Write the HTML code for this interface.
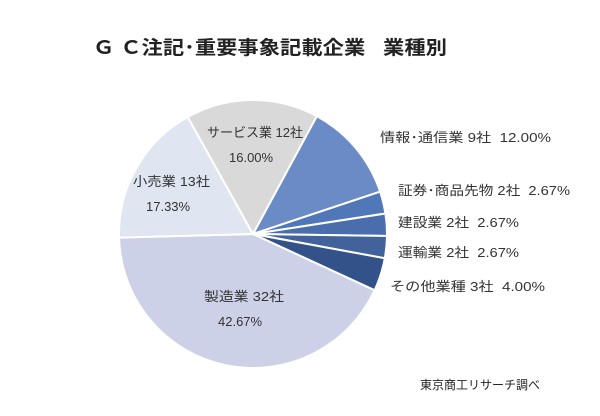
<!DOCTYPE html>
<html><head><meta charset="utf-8"><style>
body{margin:0;width:600px;height:411px;background:#fff;overflow:hidden;font-family:"Liberation Sans","Noto Sans CJK JP",sans-serif}
</style></head><body>
<svg id="s" width="600" height="411" xmlns="http://www.w3.org/2000/svg" font-family="Liberation Sans, Noto Sans CJK JP, sans-serif">
<text x="93" y="54" font-size="19" font-weight="bold" fill="#222" textLength="354" lengthAdjust="spacingAndGlyphs">Ｇ Ｃ注記･重要事象記載企業&#160;&#160;&#160;業種別</text>
<g id="pie"></g>
<g font-size="13" fill="#333">
<text x="207" y="137" textLength="96" lengthAdjust="spacingAndGlyphs">サービス業 12社</text>
<text x="229" y="162">16.00%</text>
<text x="133" y="186" textLength="77" lengthAdjust="spacingAndGlyphs">小売業 13社</text>
<text x="146" y="211">17.33%</text>
<text x="204" y="301" textLength="80" lengthAdjust="spacingAndGlyphs">製造業 32社</text>
<text x="218" y="326">42.67%</text>
<text x="380" y="142" textLength="171" lengthAdjust="spacingAndGlyphs">情報･通信業 9社&#160;&#160;12.00%</text>
<text x="398" y="195" textLength="172" lengthAdjust="spacingAndGlyphs">証券･商品先物 2社&#160;&#160;2.67%</text>
<text x="398" y="227" textLength="121" lengthAdjust="spacingAndGlyphs">建設業 2社&#160;&#160;2.67%</text>
<text x="398" y="257" textLength="121" lengthAdjust="spacingAndGlyphs">運輸業 2社&#160;&#160;2.67%</text>
<text x="390" y="291" textLength="155" lengthAdjust="spacingAndGlyphs">その他業種 3社&#160;&#160;4.00%</text>
<text x="420" y="389" font-size="12" fill="#222">東京商工リサーチ調べ</text>
</g>
</svg>
<script>
var cx=253,cy=234,r=134,a=28.4;
var d=[[12,"#6a8bc6"],[2.67,"#5078b8"],[2.67,"#4a6eac"],[2.67,"#42629c"],[4,"#34528a"],[42.67,"#cdd1e7"],[17.33,"#dfe6f2"],[16,"#d9d9d9"]];
var g=document.getElementById("pie"),h="";
function p(t){t=t*Math.PI/180;return (cx+r*Math.sin(t)).toFixed(2)+","+(cy-r*Math.cos(t)).toFixed(2);}
d.forEach(function(e){var b=a+e[0]*3.6;h+='<path d="M'+cx+','+cy+' L'+p(a)+' A'+r+','+r+' 0 '+(b-a>180?1:0)+',1 '+p(b)+' Z" fill="'+e[1]+'" stroke="#fff" stroke-width="2"/>';a=b;});
g.innerHTML=h;
</script>
</body></html>
